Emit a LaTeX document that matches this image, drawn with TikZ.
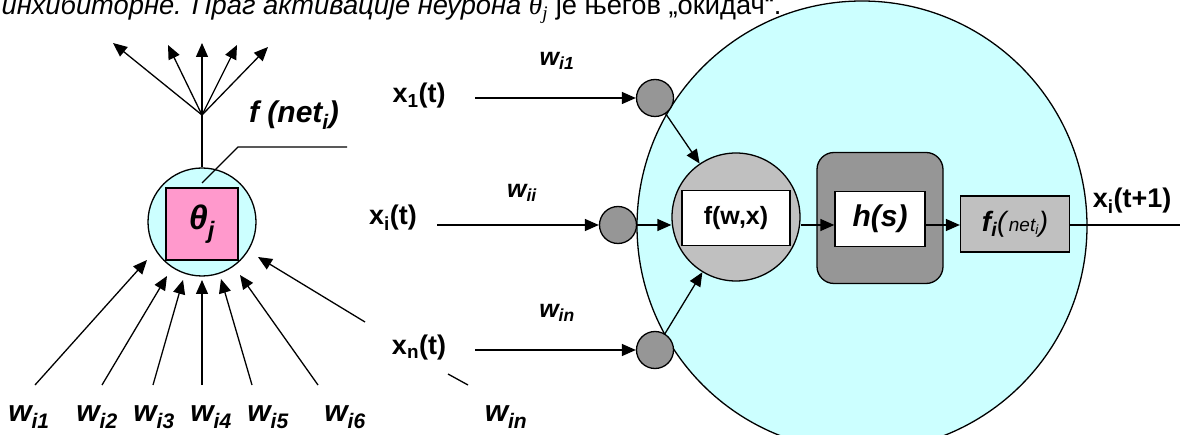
\documentclass[tikz,border=0pt]{standalone}
\usepackage{fontspec}
\setmainfont{Liberation Sans}
\newfontfamily\serifgr{Liberation Serif}
\usetikzlibrary{positioning,arrows.meta,calc}
\definecolor{cellcyan}{HTML}{CCFFFF}
\definecolor{thrpink}{HTML}{FF99CC}
\definecolor{wtgray}{HTML}{969696}
\definecolor{boxgray}{HTML}{C0C0C0}

\begin{document}
\begin{tikzpicture}[x=1pt,y=-1pt,line width=1.3pt,
  every node/.style={inner sep=1.5pt},
  arr/.style={-{Triangle[length=14pt,width=12pt]}},
  wt/.style={circle,draw,fill=wtgray,minimum size=37pt},
  wlab/.style={font=\fontsize{30}{32}\selectfont\bfseries\itshape},
  wlabs/.style={font=\fontsize{25}{28}\selectfont\bfseries\itshape},
  xlab/.style={font=\fontsize{27}{30}\selectfont\bfseries},
  whitebox/.style={draw,fill=white,minimum height=55pt}]

  \useasboundingbox (0,0) rectangle (1180,435);
  \clip (0,0) rectangle (1180,435);

  \node[anchor=base west,inner sep=0pt,font=\fontsize{27.3}{30}\selectfont] (caption) at (1,15)
    {\itshape инхибиторне. Праг активације неурона {\serifgr θ\textsubscript{j}} {\upshape је његов „окидач“.}};

  \node[circle,draw,fill=cellcyan,minimum size=108pt] (nrn) at (202,222) {};
  \node[draw,fill=thrpink,minimum size=72pt,font=\fontsize{34}{36}\selectfont\bfseries\itshape] (thr) at (202,224) {θ\textsubscript{j}};

  \coordinate (fan) at (202,115);
  \draw (nrn.north) -- (fan);
  \foreach \i/\x/\y in {1/113/43,2/168/45,3/202/43,4/237/45,5/268/47} {
    \coordinate (out\i) at (\x,\y);
    \draw[arr] (fan) -- (out\i);
  }

  \node[font=\fontsize{30}{32}\selectfont\bfseries\itshape] (fnet) at (294,115) {f (net\textsubscript{i})};
  \coordinate (lead1) at (202,183);
  \coordinate (lead2) at (238,147);
  \coordinate (lead3) at (347,147);
  \draw (lead1) -- (lead2) -- (lead3);

  \foreach \i/\sx/\tx/\ty in {1/35/147/260,2/102/167/276,3/153/183/280,4/202/202/280,5/252/221/279,6/318/240/275} {
    \coordinate (in\i) at (\sx,385);
    \coordinate (tip\i) at (\tx,\ty);
    \draw[arr] (in\i) -- (tip\i);
  }
  \foreach \i/\x in {1/29,2/97,3/154,4/211,5/268,6/345}
    \node[wlab] (w\i) at (\x,417) {w\textsubscript{i\i}};

  \coordinate (inn) at (365,322);
  \coordinate (tipn) at (258,257);
  \draw[arr] (inn) -- (tipn);
  \coordinate (cut1) at (448,374);
  \coordinate (cut2) at (468,385);
  \draw (cut1) -- (cut2);
  \node[wlab] (wnb) at (506,417) {w\textsubscript{in}};

  \node[circle,draw,fill=cellcyan,minimum size=450pt] (cell) at (862,226) {};
  \node[wt] (wt1) at (655,98) {};
  \node[wt] (wti) at (618,225) {};
  \node[wt] (wtn) at (655,350) {};

  \node[xlab] (x1) at (419,96) {x\textsubscript{1}(t)};
  \node[xlab] (xi) at (393,218) {x\textsubscript{i}(t)};
  \node[xlab] (xn) at (419,348) {x\textsubscript{n}(t)};
  \node[wlabs] (wr1) at (557,61) {w\textsubscript{i1}};
  \node[wlabs] (wri) at (522,193) {w\textsubscript{ii}};
  \node[wlabs] (wrn) at (557,313) {w\textsubscript{in}};

  \coordinate (s1) at (475,98);
  \coordinate (si) at (437,225);
  \coordinate (sn) at (475,350);
  \draw[arr] (s1) -- (wt1);
  \draw[arr] (si) -- (wti);
  \draw[arr] (sn) -- (wtn);

  \node[circle,draw,fill=boxgray,minimum size=128pt] (sum) at (736,217) {};
  \node[whitebox,minimum width=108pt,font=\fontsize{25}{28}\selectfont\bfseries] (fwx) at (736,218) {f(w,x)};
  \node[draw,fill=wtgray,rounded corners=17pt,minimum width=126pt,minimum height=131pt] (hbox) at (880,218) {};
  \node[whitebox,minimum width=90pt,font=\fontsize{30}{32}\selectfont\bfseries\itshape] (hs) at (880,219) {h(s)};
  \node[draw,fill=boxgray,minimum width=109pt,minimum height=56pt,font=\fontsize{28}{30}\selectfont] (fbox) at (1015,224)
    {{\bfseries\itshape f\textsubscript{i}}\textit{(}{\fontsize{19}{21}\selectfont\itshape net\textsubscript{i}}\textit{)}};

  \coordinate (mainax) at (0,225);
  \draw[arr] (wt1) -- (sum);
  \draw[arr] (wtn) -- (sum);
  \draw[arr] (wti) -- (sum.west |- wti);
  \draw[arr] (sum.east |- mainax) -- (hs.west |- mainax);
  \draw[arr] (hs.east |- mainax) -- (fbox.west |- mainax);
  \coordinate (xout) at (1194,225);
  \draw[arr] (fbox.east |- mainax) -- (xout);
  \node[xlab] (xnext) at (1132,201) {x\textsubscript{i}(t+1)};
\end{tikzpicture}
\end{document}
